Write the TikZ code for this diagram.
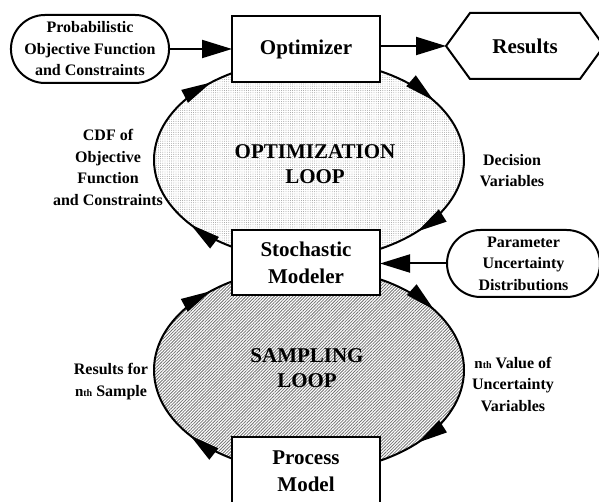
\documentclass[tikz,border=0pt]{standalone}
\usepackage{fontspec}
\setmainfont{Liberation Serif}
\usetikzlibrary{shapes.geometric, shapes.misc, arrows.meta, decorations.markings, patterns.meta}
\tikzset{
  box/.style={draw, line width=2pt, fill=white, minimum width=148pt, minimum height=66pt,
    inner sep=0pt, outer sep=0pt, font=\bfseries\fontsize{21}{27}\selectfont, align=center},
  stad/.style={rounded rectangle, draw, line width=2pt, fill=white, inner sep=0pt, outer sep=0pt,
    font=\bfseries\fontsize{16}{21.5}\selectfont, align=center},
  lbl/.style={font=\bfseries\fontsize{16}{21.5}\selectfont, align=center},
  looptxt/.style={font=\bfseries\fontsize{21}{25}\selectfont, align=center},
  conn/.style={line width=2pt, -{Triangle[length=30pt,width=18pt]}},
  loopfill/.style={ellipse, minimum width=310pt, inner sep=0pt, outer sep=0pt},
  looparc/.style 2 args={line width=2pt, postaction={decorate}, decoration={markings,
    mark=at position #1 with {\arrow{Triangle[length=30pt,width=14pt]}},
    mark=at position #2 with {\arrow{Triangle[length=30pt,width=14pt]}}}},
}
\newcommand{\nthtxt}{{\fontsize{15}{15}\selectfont n}{\fontsize{10}{10}\selectfont th}}
\begin{document}
\begin{tikzpicture}[x=1pt,y=1pt]
\path[use as bounding box, clip] (0,0) rectangle (599,502);
% loops
\node[loopfill, minimum height=200pt, pattern={Dots[radius=0.45pt, distance=2.2pt]}, pattern color=black!45] (loop1) at (309,342) {};
\node[loopfill, minimum height=204pt, pattern={Lines[angle=45, distance=2.2pt, line width=0.8pt]}, pattern color=black!55] (loop2) at (309,132) {};
\draw[looparc={0.31}{0.75}] (loop1.south) arc[start angle=270, end angle=90, x radius=155pt, y radius=100pt];
\draw[looparc={0.33}{0.72}] (loop1.north) arc[start angle=90, end angle=-90, x radius=155pt, y radius=100pt];
\draw[looparc={0.31}{0.75}] (loop2.south) arc[start angle=270, end angle=90, x radius=155pt, y radius=102pt];
\draw[looparc={0.33}{0.72}] (loop2.north) arc[start angle=90, end angle=-90, x radius=155pt, y radius=102pt];
% boxes
\node[box] (opt) at (306,453) {Optimizer};
\node[box, minimum height=65pt] (stoch) at (306,239.5) {Stochastic\\Modeler};
\node[box, minimum height=68pt] (proc) at (306,31) {Process\\Model};
\node[stad, minimum width=154pt, minimum height=68pt] (prob) at (90,453) {Probabilistic\\Objective Function\\and Constraints};
\node[stad, minimum width=153pt, minimum height=67pt] (param) at (523.5,238.5) {Parameter\\Uncertainty\\Distributions};
\node[minimum width=158pt, minimum height=66pt, inner sep=0pt, outer sep=0pt,
  font=\bfseries\fontsize{21}{27}\selectfont] (res) at (525,456) {Results};
\draw[line width=2pt] (res.west) -- ([xshift=24pt]res.north west) -- ([xshift=-24pt]res.north east)
  -- (res.east) -- ([xshift=-24pt]res.south east) -- ([xshift=24pt]res.south west) -- cycle;
% connectors
\draw[conn] (prob.east) -- (prob.east -| opt.west);
\draw[conn] (opt.east |- res.west) -- (res.west);
\draw[conn] (param.west) -- (param.west -| stoch.east);
% labels
\node[looptxt] (lt1) at (315,337.5) {OPTIMIZATION\\LOOP};
\node[looptxt] (lt2) at (307,133.5) {SAMPLING\\LOOP};
\node[lbl] (cdf) at (108,334.5) {CDF of\\Objective\\Function\\and Constraints};
\node[lbl] (dec) at (512,331.5) {Decision\\Variables};
\node[lbl] (rfor) at (111,120.5) {Results for\\\nthtxt\ Sample};
\node[lbl] (nval) at (513,118) {\nthtxt\ Value of\\Uncertainty\\Variables};
\end{tikzpicture}
\end{document}
